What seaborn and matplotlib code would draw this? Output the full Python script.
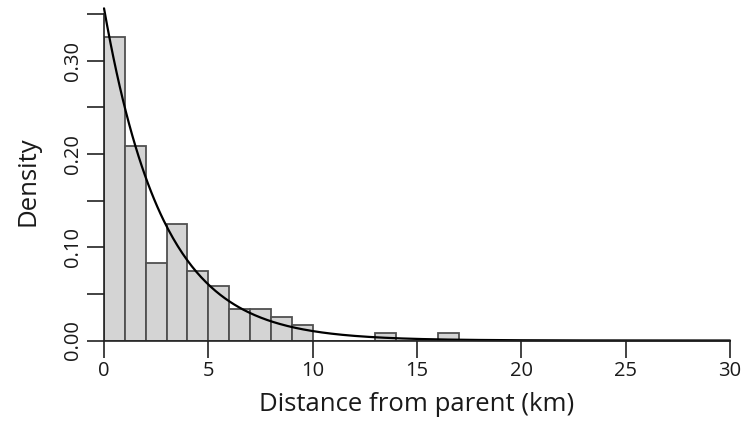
import numpy as np
import pandas as pd
import seaborn as sns
import matplotlib
matplotlib.use("Agg")
import matplotlib.pyplot as plt

# histogram: 1 km bins, counts out of 120 distances
bin_left = [0, 1, 2, 3, 4, 5, 6, 7, 8, 9, 10, 11, 12, 13, 14, 15, 16]
counts = [39, 25, 10, 15, 9, 7, 4, 4, 3, 2, 0, 0, 0, 1, 0, 0, 1]
n_total = 120
rate = 0.356  # fitted exponential rate (per km)

x_ticks = [0, 5, 10, 15, 20, 25, 30]
y_ticks = [0.00, 0.05, 0.10, 0.15, 0.20, 0.25, 0.30, 0.35]
y_labels = ["0.00", "", "0.10", "", "0.20", "", "0.30", ""]

df = pd.DataFrame({"dist": np.array(bin_left) + 0.5,
                   "dens": np.array(counts) / n_total})

sns.set_style("white")
plt.rcParams["font.family"] = ["Open Sans", "DejaVu Sans"]

fig = plt.figure(figsize=(7.56, 4.23), dpi=100)
ax = fig.add_axes([0.1376, 0.195, 0.828, 0.772])

sns.histplot(data=df, x="dist", weights="dens", binwidth=1, binrange=(0, 17),
             stat="count", color="#d4d4d4", edgecolor="#505050",
             linewidth=1.3, alpha=1, ax=ax)

xs = np.linspace(0, 30, 400)
curve = pd.DataFrame({"x": xs, "y": rate * np.exp(-rate * xs)})
sns.lineplot(data=curve, x="x", y="y", color="black", linewidth=1.6,
             ax=ax, clip_on=False)

ax.set_xlim(0, 30)
ax.set_ylim(0, 0.35)
ax.set_xticks(x_ticks)
ax.set_xticklabels([str(t) for t in x_ticks])
ax.set_yticks(y_ticks)
ax.set_yticklabels(y_labels, rotation=90, va="center")
ax.tick_params(direction="out", length=12, width=1.2, color="#222222",
               labelsize=14.5, pad=3, labelcolor="#1a1a1a",
               bottom=True, left=True)
for s in ["top", "right"]:
    ax.spines[s].set_visible(False)
for s in ["left", "bottom"]:
    ax.spines[s].set_linewidth(1.2)
    ax.spines[s].set_color("#222222")

ax.set_xlabel("Distance from parent (km)", fontsize=18.5, color="#1a1a1a")
ax.set_ylabel("Density", fontsize=18.5, color="#1a1a1a")
ax.xaxis.set_label_coords(0.5, -0.157)
ax.yaxis.set_label_coords(-0.102, 0.488)

fig.savefig("out.png", dpi=100)
